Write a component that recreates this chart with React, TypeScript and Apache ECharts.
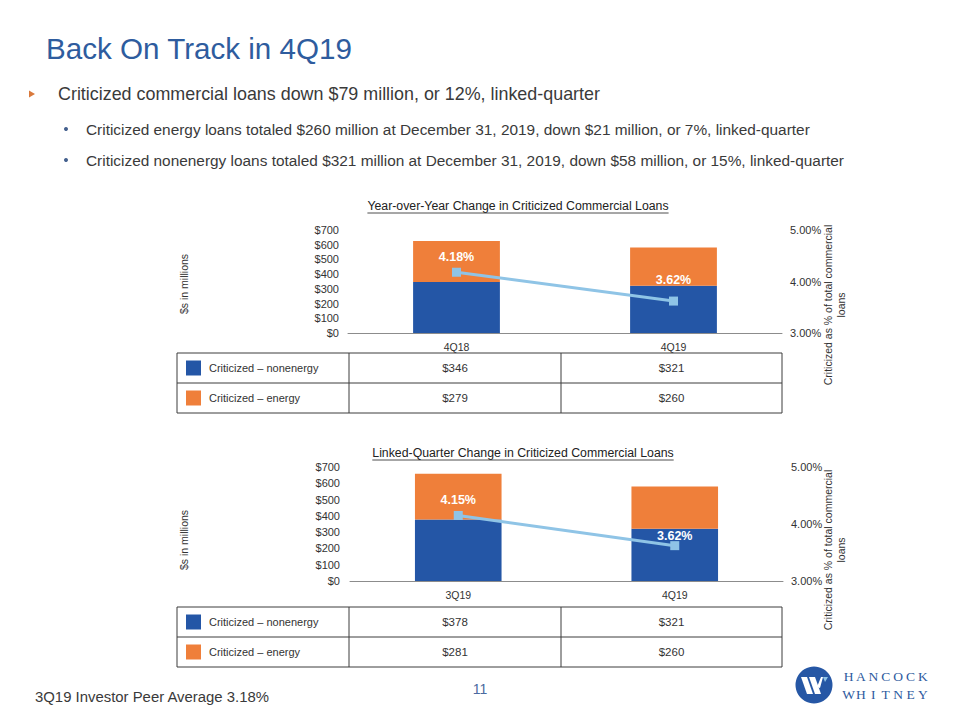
import React, { useEffect, useRef } from "react";
import * as echarts from "echarts";

// ---------- data ----------
const categoriesYoY = ["4Q18", "4Q19"];
const nonenergyYoY = [346, 321];
const energyYoY = [279, 260];
const pctYoY = [4.18, 3.62];

const categoriesLQ = ["3Q19", "4Q19"];
const nonenergyLQ = [378, 321];
const energyLQ = [281, 260];
const pctLQ = [4.15, 3.62];

const seriesNames = ["Criticized \u2013 nonenergy", "Criticized \u2013 energy"];

const titleText = "Back On Track in 4Q19";
const mainBullet = "Criticized commercial loans down $79 million, or 12%, linked-quarter";
const subBullets = [
  "Criticized energy loans totaled $260 million at December 31, 2019, down $21 million, or 7%, linked-quarter",
  "Criticized nonenergy loans totaled $321 million at December 31, 2019, down $58 million, or 15%, linked-quarter",
];
const chartTitles = [
  "Year-over-Year Change in Criticized Commercial Loans",
  "Linked-Quarter Change in Criticized Commercial Loans",
];
const leftAxisName = "$s in millions";
const rightAxisName = "Criticized as % of total commercial\nloans";
const footerText = "3Q19 Investor Peer Average 3.18%";
const pageNumber = "11";
const logoWords = ["HANCOCK", "WHITNEY"];

// ---------- styles ----------
const FONT = "'Liberation Sans', Arial, sans-serif";
const SERIF = "'Liberation Serif', 'DejaVu Serif', serif";
const BLUE = "#2456a6";
const ORANGE = "#ef7f3a";
const LINE = "#8fc4e6";
const TEXT = "#3a3a3a";
const AXIS_TEXT = "#333333";
const TITLE_BLUE = "#2e5c9e";
const labelDistYoY = [4, 10];
const labelDistLQ = [4, -1];

let measureCtx: CanvasRenderingContext2D | null = null;
function measure(text: string, font: string): number {
  if (!measureCtx) measureCtx = document.createElement("canvas").getContext("2d");
  if (!measureCtx) return text.length * 6;
  measureCtx.font = font;
  return measureCtx.measureText(text).width;
}

function chartTitle(text: string, cx: number, cy: number): any[] {
  const size = 12.3;
  const w = measure(text, `${size}px ${FONT}`);
  return [
    {
      type: "text",
      x: cx,
      y: cy,
      style: { text, fill: "#222", font: `${size}px ${FONT}`, align: "center", verticalAlign: "middle" },
    },
    {
      type: "line",
      shape: { x1: cx - w / 2, y1: cy + 7, x2: cx + w / 2, y2: cy + 7 },
      style: { stroke: "#222", lineWidth: 0.8 },
    },
  ];
}

function axisNames(leftX: number, leftY: number, rightX: number, rightY: number): any[] {
  return [
    {
      type: "text",
      x: leftX,
      y: leftY,
      rotation: Math.PI / 2,
      style: { text: leftAxisName, fill: AXIS_TEXT, font: `10.5px ${FONT}`, align: "center", verticalAlign: "middle" },
    },
    {
      type: "text",
      x: rightX,
      y: rightY,
      rotation: Math.PI / 2,
      style: {
        text: rightAxisName,
        fill: AXIS_TEXT,
        font: `10.5px ${FONT}`,
        align: "center",
        verticalAlign: "middle",
        lineHeight: 13,
      },
    },
  ];
}

function table(top: number, v1: number[], v2: number[]): any[] {
  const cols = [177, 349, 561, 782];
  const rowH = 30;
  const rows = [top, top + rowH, top + rowH * 2];
  const els: any[] = [];
  const stroke = { stroke: "#3c3c3c", lineWidth: 1 };
  rows.forEach((y) =>
    els.push({ type: "line", shape: { x1: cols[0], y1: y, x2: cols[3], y2: y }, style: stroke })
  );
  cols.forEach((x) =>
    els.push({ type: "line", shape: { x1: x, y1: rows[0], x2: x, y2: rows[2] }, style: stroke })
  );
  const colors = [BLUE, ORANGE];
  const values = [
    [v1[0], v1[1]],
    [v2[0], v2[1]],
  ];
  for (let r = 0; r < 2; r++) {
    const cy = rows[r] + rowH / 2;
    els.push({ type: "rect", shape: { x: 186, y: cy - 7.5, width: 15, height: 15 }, style: { fill: colors[r] } });
    els.push({
      type: "text",
      x: 209,
      y: cy,
      style: { text: seriesNames[r], fill: AXIS_TEXT, font: `11px ${FONT}`, verticalAlign: "middle" },
    });
    for (let c = 0; c < 2; c++) {
      els.push({
        type: "text",
        x: (cols[c + 1] + cols[c + 2]) / 2,
        y: cy,
        style: {
          text: "$" + values[r][c],
          fill: AXIS_TEXT,
          font: `11.5px ${FONT}`,
          align: "center",
          verticalAlign: "middle",
        },
      });
    }
  }
  return els;
}

function logo(): any[] {
  const cx = 814;
  const cy = 685;
  const els: any[] = [
    { type: "circle", shape: { cx, cy, r: 18.5 }, style: { fill: "#2657a5" } },
    {
      type: "polygon",
      shape: { points: [[cx - 13, cy - 8], [cx - 7, cy - 8], [cx - 1, cy + 9], [cx - 7, cy + 9]] },
      style: { fill: "#ffffff" },
    },
    {
      type: "polygon",
      shape: { points: [[cx - 5, cy - 8], [cx + 1, cy - 8], [cx + 7, cy + 9], [cx + 1, cy + 9]] },
      style: { fill: "#ffffff" },
    },
    {
      type: "polygon",
      shape: { points: [[cx + 3, cy + 2], [cx + 7, cy - 8], [cx + 9, cy - 8], [cx + 6, cy + 3]] },
      style: { fill: "#ffffff" },
    },
    {
      type: "polygon",
      shape: { points: [[cx + 9, cy - 8], [cx + 14, cy - 8], [cx + 11, cy - 3]] },
      style: { fill: "#8fc4e6" },
    },
  ];
  logoWords.forEach((word, wi) => {
    word.split("").forEach((ch, i) => {
      els.push({
        type: "text",
        x: 848.5 + i * 12.4,
        y: 676.5 + wi * 18,
        style: {
          text: ch,
          fill: "#2e5a9e",
          font: `13.5px ${SERIF}`,
          align: "center",
          verticalAlign: "middle",
        },
      });
    });
  });
  return els;
}

function buildOption(): any {
  const axisLabel = { color: AXIS_TEXT, fontSize: 11, fontFamily: FONT };
  const catAxis = (gridIndex: number, data: string[]) => ({
    type: "category",
    gridIndex,
    data,
    axisLine: { lineStyle: { color: "#8c8c8c", width: 1 } },
    axisTick: { show: false },
    axisLabel: { ...axisLabel, fontSize: 10.5, margin: 8 },
  });
  const leftAxis = (gridIndex: number, margin: number) => ({
    type: "value",
    gridIndex,
    min: 0,
    max: 700,
    interval: 100,
    splitLine: { show: false },
    axisLine: { show: false },
    axisTick: { show: false },
    axisLabel: { ...axisLabel, margin, formatter: "${value}" },
  });
  const rightAxis = (gridIndex: number) => ({
    type: "value",
    gridIndex,
    position: "right",
    min: 3,
    max: 5,
    interval: 1,
    splitLine: { show: false },
    axisLine: { show: false },
    axisTick: { show: false },
    axisLabel: { ...axisLabel, margin: 8, formatter: (v: number) => v.toFixed(2) + "%" },
  });
  const bars = (idx: number, stack: string, nonenergy: number[], energy: number[]) => [
    {
      type: "bar",
      name: seriesNames[0],
      stack,
      xAxisIndex: idx,
      yAxisIndex: idx * 2,
      data: nonenergy,
      barWidth: "40%",
      itemStyle: { color: BLUE },
    },
    {
      type: "bar",
      name: seriesNames[1],
      stack,
      xAxisIndex: idx,
      yAxisIndex: idx * 2,
      data: energy,
      barWidth: "40%",
      itemStyle: { color: ORANGE },
    },
  ];
  const line = (idx: number, pct: number[], dists: number[]) => ({
    type: "line",
    xAxisIndex: idx,
    yAxisIndex: idx * 2 + 1,
    data: pct.map((v, i) => ({ value: v, label: { distance: dists[i] } })),
    symbol: "rect",
    symbolSize: 9,
    lineStyle: { color: LINE, width: 3 },
    itemStyle: { color: LINE },
    z: 5,
    label: {
      show: true,
      position: "top",
      color: "#ffffff",
      fontWeight: "bold",
      fontSize: 12.5,
      fontFamily: FONT,
      formatter: (p: any) => Number(p.value).toFixed(2) + "%",
    },
  });

  const graphic: any[] = [
    {
      type: "text",
      x: 46,
      y: 48,
      style: { text: titleText, fill: TITLE_BLUE, font: `29.6px ${FONT}`, verticalAlign: "middle" },
    },
    {
      type: "polygon",
      shape: { points: [[29, 90.5], [29, 97.5], [35, 94]] },
      style: { fill: "#d9793c" },
    },
    {
      type: "text",
      x: 58,
      y: 94,
      style: { text: mainBullet, fill: TEXT, font: `17.9px ${FONT}`, verticalAlign: "middle" },
    },
    ...subBullets.flatMap((t, i) => [
      { type: "circle", shape: { cx: 66, cy: 129 + i * 31, r: 2 }, style: { fill: "#44608e" } },
      {
        type: "text",
        x: 86,
        y: 129 + i * 31,
        style: { text: t, fill: TEXT, font: `15.4px ${FONT}`, verticalAlign: "middle" },
      },
    ]),
    ...chartTitles.flatMap((t, i) => chartTitle(t, i === 0 ? 518 : 523, i === 0 ? 206 : 453)),
    ...axisNames(184, 284, 834, 305),
    ...axisNames(184, 540, 834, 550),
    ...table(353, nonenergyYoY, energyYoY),
    ...table(607, nonenergyLQ, energyLQ),
    {
      type: "text",
      x: 35,
      y: 697,
      style: { text: footerText, fill: TEXT, font: `14.9px ${FONT}`, verticalAlign: "middle" },
    },
    {
      type: "text",
      x: 480,
      y: 689,
      style: { text: pageNumber, fill: "#4b6aa0", font: `14px ${FONT}`, align: "center", verticalAlign: "middle" },
    },
    ...logo(),
  ];

  return {
    animation: false,
    backgroundColor: "#ffffff",
    grid: [
      { left: 348, top: 230, width: 434, height: 103 },
      { left: 350, top: 467, width: 433, height: 114 },
    ],
    xAxis: [catAxis(0, categoriesYoY), catAxis(1, categoriesLQ)],
    yAxis: [leftAxis(0, 9), rightAxis(0), leftAxis(1, 10), rightAxis(1)],
    series: [
      ...bars(0, "yoy", nonenergyYoY, energyYoY),
      line(0, pctYoY, labelDistYoY),
      ...bars(1, "lq", nonenergyLQ, energyLQ),
      line(1, pctLQ, labelDistLQ),
    ],
    graphic,
  };
}

export default function App() {
  const ref = useRef<HTMLDivElement>(null);
  useEffect(() => {
    if (!ref.current) return;
    const chart = echarts.init(ref.current, null, { renderer: "svg" });
    chart.setOption(buildOption());
    return () => chart.dispose();
  }, []);
  return (
    <div
      ref={ref}
      style={{ position: "fixed", left: 0, top: 0, width: 960, height: 720, background: "#fff" }}
    />
  );
}
